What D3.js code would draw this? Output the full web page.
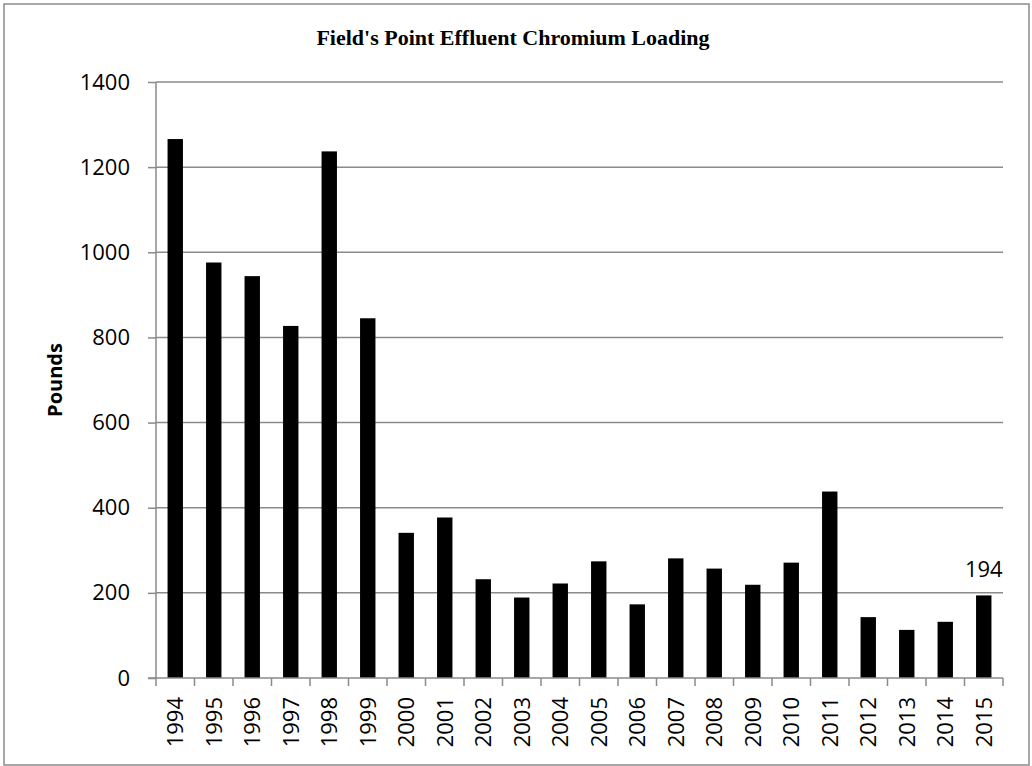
<!DOCTYPE html>
<html>
<head>
<meta charset="utf-8">
<script src="https://cdn.jsdelivr.net/npm/d3@7"></script>
<style>
  body { margin: 0; background: #fff; }
  text { font-family: "Open Sans", "Noto Sans", sans-serif; fill: #000; }
</style>
</head>
<body>
<div id="chart"></div>
<script>
var years = ["1994", "1995", "1996", "1997", "1998", "1999", "2000", "2001", "2002", "2003", "2004",
    "2005", "2006", "2007", "2008", "2009", "2010", "2011", "2012", "2013", "2014", "2015"];
var pounds = [1266, 976, 944, 827, 1237, 845, 341, 377, 232, 189, 222,
    274, 173, 281, 257, 219, 271, 438, 143, 113, 132, 194];
var yTicks = [0, 200, 400, 600, 800, 1000, 1200, 1400];
var labelled = ["2015"];

var width = 1032;
var height = 766;
var margin = { top: 82, right: 29, bottom: 88, left: 156 };

var svg = d3.select('#chart')
    .append('svg')
    .attr('width', width)
    .attr('height', height);

// outer chart border
svg.append('rect')
    .attr('x', 4)
    .attr('y', 4)
    .attr('width', 1025)
    .attr('height', 761)
    .attr('fill', 'none')
    .attr('stroke', '#8a8a8a')
    .attr('stroke-width', 1.5);

var x = d3.scaleBand()
    .domain(years)
    .range([margin.left, width - margin.right])
    .paddingInner(0.6)
    .paddingOuter(0.3);

var y = d3.scaleLinear()
    .domain([0, 1400])
    .range([height - margin.bottom, margin.top]);

// gridlines
svg.append('g')
    .selectAll('line')
    .data(yTicks.slice(1))
    .enter()
    .append('line')
    .attr('x1', margin.left)
    .attr('x2', width - margin.right)
    .attr('y1', function (d) { return y(d); })
    .attr('y2', function (d) { return y(d); })
    .attr('stroke', '#8a8a8a')
    .attr('stroke-width', 1.5);

// bars
svg.append('g')
    .selectAll('rect')
    .data(pounds)
    .enter()
    .append('rect')
    .attr('x', function (d, i) { return x(years[i]); })
    .attr('y', function (d) { return y(d); })
    .attr('width', x.bandwidth())
    .attr('height', function (d) { return y(0) - y(d); })
    .attr('fill', '#000');

// y axis
var yAxis = svg.append('g')
    .attr('transform', 'translate(' + margin.left + ',0)')
    .call(d3.axisLeft(y).tickValues(yTicks).tickSize(8).tickPadding(18).tickFormat(d3.format('d')));
yAxis.selectAll('line, path').attr('stroke', '#8a8a8a').attr('stroke-width', 1.5);
yAxis.select('.domain').attr('d', 'M0,' + y(1400) + 'V' + y(0));
yAxis.selectAll('text')
    .style('font-size', '22px')
    .style('font-family', '"Open Sans", sans-serif')
    .attr('fill', '#000');

// x axis: ticks sit on band edges
var xAxisG = svg.append('g')
    .attr('transform', 'translate(0,' + y(0) + ')');
var step = x.step();
var edges = years.map(function (d) { return x(d) + x.bandwidth() / 2 - step / 2; });
edges.push(width - margin.right);
xAxisG.append('line')
    .attr('x1', margin.left - 8)
    .attr('x2', width - margin.right)
    .attr('stroke', '#8a8a8a')
    .attr('stroke-width', 1.5);
xAxisG.selectAll('.tick')
    .data(edges)
    .enter()
    .append('line')
    .attr('x1', function (d) { return d; })
    .attr('x2', function (d) { return d; })
    .attr('y1', 0)
    .attr('y2', 8)
    .attr('stroke', '#8a8a8a')
    .attr('stroke-width', 1.5);
xAxisG.selectAll('.lab')
    .data(years)
    .enter()
    .append('text')
    .attr('transform', function (d) {
        return 'translate(' + (x(d) + x.bandwidth() / 2 + 8) + ',19) rotate(-90)';
    })
    .attr('text-anchor', 'end')
    .style('font-size', '22px')
    .text(function (d) { return d; });

// data label on last bar
svg.append('g')
    .selectAll('text')
    .data(years.filter(function (d) { return labelled.indexOf(d) >= 0; }))
    .enter()
    .append('text')
    .attr('x', function (d) { return x(d) + x.bandwidth() / 2; })
    .attr('y', function (d) { return y(pounds[years.indexOf(d)]) - 18; })
    .attr('text-anchor', 'middle')
    .style('font-size', '22px')
    .text(function (d) { return pounds[years.indexOf(d)]; });

// y axis title
svg.append('text')
    .attr('transform', 'translate(62,380) rotate(-90)')
    .attr('text-anchor', 'middle')
    .style('font-size', '20px')
    .style('font-weight', 'bold')
    .text('Pounds');

// chart title
svg.append('text')
    .attr('x', 513)
    .attr('y', 45)
    .attr('text-anchor', 'middle')
    .style('font-family', '"Liberation Serif", "Times New Roman", serif')
    .style('font-size', '22px')
    .style('font-weight', 'bold')
    .text("Field's Point Effluent Chromium Loading");
</script>
</body>
</html>
